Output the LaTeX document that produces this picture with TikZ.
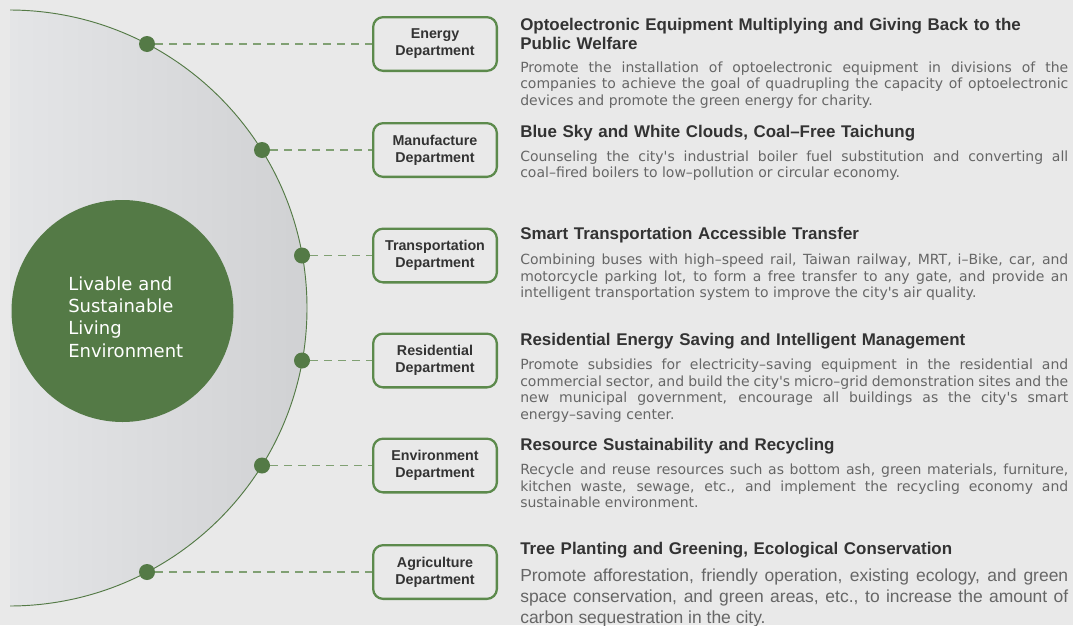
\documentclass[tikz,border=0pt]{standalone}
\usepackage{fontspec}
\setmainfont{DejaVu Sans}
\newfontfamily\headfont{Liberation Sans}
\definecolor{pageGray}{HTML}{E9E9E9}
\definecolor{arcLight}{HTML}{E4E5E7}
\definecolor{arcDark}{HTML}{D0D1D3}
\definecolor{leafGreen}{HTML}{547A46}
\definecolor{boxGreen}{HTML}{5C8A4C}
\definecolor{dashGreen}{HTML}{80A073}
\definecolor{titleText}{HTML}{333333}
\definecolor{bodyText}{HTML}{666666}
\newcommand{\apos}{\textquotesingle}

\begin{document}
\begin{tikzpicture}[x=0.75pt, y=-0.75pt,
    dept/.style={draw=boxGreen, line width=1.7pt, rounded corners=7.5pt,
      minimum width=92.8pt, minimum height=40.3pt, inner sep=0pt, align=center,
      text=titleText, font=\headfont\bfseries\fontsize{10.7}{12.75}\selectfont},
    dot/.style={circle, fill=leafGreen, inner sep=0pt, minimum size=12pt},
    link/.style={dashGreen, line width=1pt, dash pattern=on 6pt off 4.5pt},
    heading/.style={anchor=base west, inner sep=0pt, text width=411pt, align=left,
      text=titleText, font=\headfont\bfseries\fontsize{12.7}{14.6}\selectfont},
    body/.style={anchor=base west, inner sep=0pt, text width=411pt, align=justify,
      text=bodyText, font=\fontsize{10.5}{12.5}\selectfont}]
    \useasboundingbox (0,0) rectangle (1073,625);
    \fill[pageGray] (0,0) rectangle (1073,625);

    % Halbkreis mit Verlauf
    \begin{scope}
      \clip (10,0) rectangle (1073,625);
      \begin{scope}
        \clip (9,308) circle[radius=298];
        \shade[left color=arcLight, right color=arcDark] (10,8) rectangle (308,608);
      \end{scope}
      \draw[leafGreen, line width=0.7pt] (9,308) circle[radius=298];
    \end{scope}

    % Zentrum
    \node[circle, fill=leafGreen, minimum size=166.5pt, inner sep=0pt] (hub) at (122.5,311) {};
    \node[anchor=base west, inner sep=0pt, text width=100pt, align=left, text=white,
      font=\fontsize{13.5}{16.75}\selectfont] (hubtext) at (68,290)
      {Livable and\\Sustainable\\Living\\Environment};

    % Punkte am Bogen
    \node[dot] (d1) at (147,44) {};
    \node[dot] (d2) at (262,150) {};
    \node[dot] (d3) at (302,255.5) {};
    \node[dot] (d4) at (302,360.5) {};
    \node[dot] (d5) at (262,465.5) {};
    \node[dot] (d6) at (147,572) {};

    % Abteilungen
    \node[dept] (b1) at (435,44) {Energy\\Department};
    \node[dept] (b2) at (435,150) {Manufacture\\Department};
    \node[dept] (b3) at (435,255.5) {Transportation\\Department};
    \node[dept] (b4) at (435,360.5) {Residential\\Department};
    \node[dept] (b5) at (435,465.5) {Environment\\Department};
    \node[dept] (b6) at (435,572) {Agriculture\\Department};

    % Linien
    \draw[link] (d1) -- (b1);
    \draw[link] (d2) -- (b2);
    \draw[link] (d3) -- (b3);
    \draw[link] (d4) -- (b4);
    \draw[link] (d5) -- (b5);
    \draw[link] (d6) -- (b6);

    % Energie
    \node[heading] (t1) at (520,30.5) {Optoelectronic Equipment Multiplying and Giving Back to the\\Public Welfare};
    \node[body] (p1) at (520,72) {Promote the installation of optoelectronic equipment in divisions of the\linebreak
      companies to achieve the goal of quadrupling the capacity of optoelectronic\linebreak
      devices and promote the green energy for charity.};

    % Industrie
    \node[heading] (t2) at (520,137) {Blue Sky and White Clouds, Coal–Free Taichung};
    \node[body] (p2) at (520,161) {Counseling the city\apos s industrial boiler fuel substitution and converting all\linebreak
      coal–fired boilers to low–pollution or circular economy.};

    % Verkehr
    \node[heading] (t3) at (520,239) {Smart Transportation Accessible Transfer};
    \node[body] (p3) at (520,264.5) {Combining buses with high–speed rail, Taiwan railway, MRT, i–Bike, car, and\linebreak
      motorcycle parking lot, to form a free transfer to any gate, and provide an\linebreak
      intelligent transportation system to improve the city\apos s air quality.};

    % Wohnen
    \node[heading] (t4) at (520,345) {Residential Energy Saving and Intelligent Management};
    \node[body] (p4) at (520,369.5) {Promote subsidies for electricity–saving equipment in the residential and\linebreak
      commercial sector, and build the city\apos s micro–grid demonstration sites and the\linebreak
      new municipal government, encourage all buildings as the city\apos s smart\linebreak
      energy–saving center.};

    % Umwelt
    \node[heading] (t5) at (520,450) {Resource Sustainability and Recycling};
    \node[body] (p5) at (520,474.5) {Recycle and reuse resources such as bottom ash, green materials, furniture,\linebreak
      kitchen waste, sewage, etc., and implement the recycling economy and\linebreak
      sustainable environment.};

    % Landwirtschaft
    \node[heading] (t6) at (520,554) {Tree Planting and Greening, Ecological Conservation};
    \node[body, font=\headfont\fontsize{13.1}{15.75}\selectfont] (p6) at (520,581.5)
      {Promote afforestation, friendly operation, existing ecology, and green\linebreak
      space conservation, and green areas, etc., to increase the amount of\linebreak
      carbon sequestration in the city.};
  \end{tikzpicture}
\end{document}
